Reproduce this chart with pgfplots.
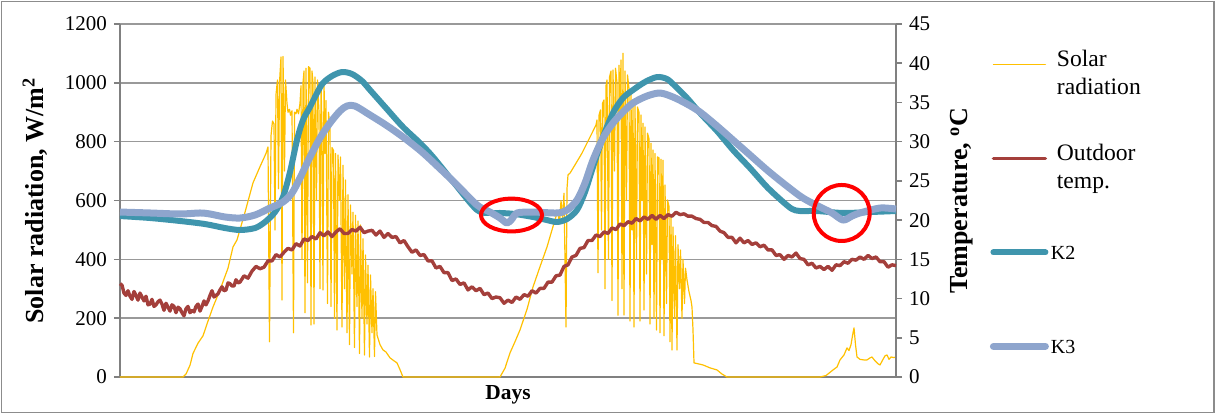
\documentclass[border=0pt]{standalone}
\usepackage{pgfplots}
\pgfplotsset{compat=1.18}
\usepackage{fontspec}
\setmainfont{LiberationSerif}[Extension=.ttf, UprightFont=*-Regular, BoldFont=*-Bold, ItalicFont=*-Italic, BoldItalicFont=*-BoldItalic]
\definecolor{solar}{HTML}{FFC000}
\definecolor{outdoor}{HTML}{A43F3B}
\definecolor{ktwo}{HTML}{3F95AD}
\definecolor{kthree}{HTML}{8EA5CD}
\definecolor{framegray}{HTML}{8C8C8C}
\begin{document}
\begin{tikzpicture}
\useasboundingbox (-60pt,-18.5pt) rectangle (547.5pt,188.5pt);
\draw[framegray, line width=0.7pt] (-59.15pt,-17.85pt) rectangle (547pt,187.65pt);
\begin{axis}[
  at={(0,0)}, anchor=south west,
  width=388pt, height=176.5pt, scale only axis,
  xmin=0, xmax=776, ymin=0, ymax=1200,
  xtick=\empty, ytick={0,200,...,1200},
  axis x line*=bottom, axis y line*=left,
  axis line style={black!50, line width=0.75pt},
  ymajorgrids, grid style={black!40, line width=0.75pt},
  tick style={black!50, line width=0.75pt},
  major tick length=3pt, tick align=outside,
  scaled y ticks=false,
  /pgf/number format/assume math mode=true,
  /pgf/number format/1000 sep={},
  yticklabel style={font=\fontsize{10.5}{12}\selectfont},
  ylabel={Solar radiation, W/m\textsuperscript{2}},
  ylabel style={font=\fontsize{13}{15}\selectfont\bfseries, at={(axis description cs:-0.1095,0.5)}, anchor=center},
  xlabel={Days},
  xlabel style={font=\fontsize{10.7}{12}\selectfont\bfseries, at={(axis description cs:0.5,-0.051)}, anchor=center},
  clip=false,
]
\addplot[solar, line width=0.6pt, line join=round, mark=none] coordinates {
(0,0) (63,0) (66,10) (70,40) (73,80) (78,115) (83,140) (88,190) (93,238) (100,296)
(108,370) (113,442) (117,466) (125,560) (133,660) (140,715) (146,760) (148,782)
(149.5,120) (151,820) (152.5,870) (154,860) (155,500) (156,960) (157.5,1010) (158.5,640)
(159.5,1000) (161,1088) (162,262) (163,1090) (164.5,700) (165.5,1010) (167,930) (168,900)
(169.5,910) (170.5,890) (172,905) (173.5,150) (174.5,900) (176,895) (177,910) (178.5,895)
(180,930) (181,990) (182,400) (183,1000) (184,1040) (185,218) (186,1050) (187.5,320)
(188.5,1055) (190,1050) (191,177) (192,1040) (193,1000) (194,180) (195,1020) (196.5,600)
(197.5,1010) (199,900) (200,300) (201,1000) (202,850) (203,296) (204,1010) (205,760)
(206,940) (207.5,250) (208.5,900) (210,850) (211,240) (212,780) (213.5,770) (214.5,200)
(215.5,760) (217,160) (218,755) (219.5,600) (220.5,748) (222,170) (223,720) (224.5,300)
(225.5,670) (227,150) (228,620) (229.5,110) (230.5,585) (232,350) (233,560) (234.5,100)
(235.5,550) (237,240) (238,530) (239.5,80) (240.5,517) (242,200) (243,470) (244.5,75)
(245.5,415) (247,180) (248,380) (249.5,68) (250.5,347) (252,150) (253,300) (254.5,70)
(255.5,290) (257,143) (260,110) (263,92) (266,85) (270,65) (274,55) (277,48) (280,25) (283,0)
(380,0) (385,30) (390,82) (395,120) (400,160) (407,230) (413,306) (420,375) (427,442)
(432,500) (437,557) (438,560) (439.5,520) (441,600) (442.5,540) (444,625) (446,170)
(447,640) (448,687) (450,693) (455,721) (462,761) (467,795) (472,829) (476,857)
(477,874) (478,354) (479,890) (480.5,908) (481.5,500) (482.5,930) (484,942) (485,300)
(486,990) (487,1010) (488.5,400) (489.5,1020) (491,1040) (492,260) (493,1044) (494.5,700)
(495.5,1050) (497,1000) (498,210) (499,1060) (500,900) (501,1078) (502,300) (503,1101)
(504,211) (505,1040) (506.5,600) (507.5,1027) (509,980) (510,190) (511,976) (512,500)
(513,942) (514,170) (515,930) (516.5,400) (517.5,918) (519,900) (520,190) (521,891)
(522,600) (523,863) (524,228) (525,850) (526.5,350) (527.5,829) (529,810) (530,180)
(531,795) (532,450) (533,772) (534,200) (535,760) (536.5,160) (537.5,748) (539,745)
(540,150) (541,740) (542,400) (543,737) (544,140) (545,653) (546.5,250) (547.5,602)
(549,580) (550,120) (551,551) (552,92) (553,510) (554.5,200) (555.5,480) (557,92)
(558,450) (559.5,300) (560.5,432) (562,200) (563,400) (564.5,250) (565.5,370) (567,330)
(569,290) (571,260) (572,238) (573,160) (574,48) (578,45) (583,41) (590,31) (597,24)
(602,10) (607,0) (700,0) (706,5) (713,24) (717,34) (720,58) (724,75) (727,99) (729,90)
(731,110) (733,150) (734,167) (735.5,110) (737,68) (740,60) (744,58) (747,58) (750,65)
(752,68) (755,55) (758,45) (760,41) (763,60) (765,72) (767,75) (769,60) (771,68) (774,66) (776,68)
};
\end{axis}
\begin{axis}[
  at={(0,0)}, anchor=south west,
  width=388pt, height=176.5pt, scale only axis,
  xmin=0, xmax=776, ymin=0, ymax=45,
  ytick={0,5,...,45},
  axis x line=none, axis y line*=right,
  axis line style={black!50, line width=0.75pt},
  tick style={black!50, line width=0.75pt},
  major tick length=3pt, tick align=outside,
  /pgf/number format/assume math mode=true,
  yticklabel style={font=\fontsize{10.5}{12}\selectfont},
  ylabel={Temperature, \textsuperscript{o}C},
  ylabel style={font=\fontsize{13}{15}\selectfont\bfseries, at={(axis description cs:1.085,0.5)}, anchor=center},
  clip=false,
  legend cell align=left,
  legend image code/.code={\draw[#1, line cap=round] (0pt,0pt) -- (26pt,0pt);},
  legend style={at={(axis description cs:1.1205,1)}, anchor=north west, draw=none, fill=none,
    inner sep=0pt, row sep=7pt, column sep=4pt, nodes={inner sep=0pt, text depth=}},
]
\addlegendimage{solar, line width=0.6pt}
\addlegendentry{\raisebox{-1.1pt}[20pt][20pt]{\fontsize{11.8}{13.75}\selectfont\begin{tabular}[t]{@{}l@{}}Solar\\radiation\end{tabular}}}
\addplot[outdoor, line width=1.7pt, line join=round, mark=none] coordinates {
(0,11.9) (2,11.7) (4,10.7) (6,10.4) (8,11.0) (10,10.3) (12,9.9) (14,10.9) (16,10.4) (18,9.8)
(20,10.7) (22,10.2) (24,9.7) (26,10.3) (28,9.2) (30,9.3) (32,9.9) (34,9.0) (36,9.2) (38,9.6)
(40,9.8) (42,9.3) (44,8.5) (46,9.4) (48,8.9) (50,8.4) (52,9.2) (54,9.0) (56,8.2) (58,8.9)
(60,8.7) (62,8.2) (64,7.8) (66,8.7) (68,9.0) (70,8.2) (72,8.5) (74,8.3) (76,9.0) (78,9.3)
(80,8.4) (82,9.0) (84,9.7) (86,9.2) (88,9.7) (90,10.4) (92,11.0) (94,10.2) (96,10.4) (98,10.6)
(100,11.1) (102,11.5) (104,11.0) (106,11.1) (108,12.0) (110,11.9) (112,11.6) (114,11.6) (116,12.4) (118,12.0)
(120,12.1) (124,12.9) (128,12.6) (132,13.5) (136,14.1) (140,13.8) (144,14.0) (148,14.8) (152,14.8) (156,15.6)
(160,15.3) (164,15.9) (168,16.4) (172,16.2) (176,17.0) (180,16.7) (184,17.6) (188,17.4) (192,17.9) (196,17.6)
(200,18.4) (204,18.0) (208,18.5) (212,17.9) (216,18.5) (220,18.9) (224,18.3) (228,18.3) (232,18.8) (236,18.6)
(240,19.1) (244,18.4) (248,18.6) (252,18.7) (256,18.1) (260,18.6) (264,17.8) (268,18.3) (272,17.8) (276,17.9)
(280,17.1) (284,17.4) (288,16.6) (292,15.9) (296,16.2) (300,15.5) (304,15.6) (308,14.8) (312,14.8) (316,13.9)
(320,14.1) (324,13.3) (328,13.3) (332,12.3) (336,12.5) (340,11.8) (344,12.0) (348,11.1) (352,11.5) (356,11.0)
(360,11.3) (364,10.5) (368,10.7) (372,10.0) (376,10.2) (380,10.1) (384,9.4) (388,9.8) (392,9.5) (396,10.2)
(400,9.9) (404,10.5) (408,10.3) (412,11.0) (416,10.7) (420,11.3) (424,11.3) (428,12.1) (432,12.1) (436,12.9)
(440,13.0) (444,14.1) (448,14.3) (452,15.3) (456,15.5) (460,16.4) (464,16.5) (468,17.4) (472,17.4) (476,18.1)
(480,17.9) (484,18.5) (488,18.3) (492,19.0) (496,18.8) (500,19.5) (504,19.3) (508,19.8) (512,19.6) (516,20.2)
(520,19.9) (524,20.4) (528,20.1) (532,20.6) (536,20.1) (540,20.6) (544,20.2) (548,20.7) (552,20.5) (556,21.0)
(560,20.7) (564,20.8) (568,20.5) (572,20.5) (576,20.2) (580,20.1) (584,19.7) (588,19.7) (592,19.3) (596,19.2)
(600,18.6) (604,18.4) (608,17.8) (612,17.8) (616,17.1) (620,17.7) (624,17.1) (628,17.4) (632,16.9) (636,17.1)
(640,16.6) (644,16.8) (648,16.2) (652,16.2) (656,15.5) (660,15.6) (664,15.0) (668,15.5) (672,15.3) (676,15.8)
(680,15.1) (684,15.0) (688,14.3) (692,14.5) (696,13.9) (700,14.1) (704,13.7) (708,14.1) (712,13.6) (716,14.3)
(720,14.2) (724,14.7) (728,14.5) (732,15.0) (736,14.9) (740,15.3) (744,15.0) (748,15.5) (752,15.1) (756,15.3)
(760,14.7) (764,14.7) (768,14.0) (772,14.3) (776,14.2)
};
\addlegendentry{\raisebox{-1.1pt}[20pt][20pt]{\fontsize{11.8}{13.75}\selectfont\begin{tabular}[t]{@{}l@{}}Outdoor\\temp.\end{tabular}}}
\addplot[ktwo, line width=3pt, line join=round, smooth, mark=none] coordinates {
(0,20.52) (30,20.27) (60,19.89) (85,19.50) (105,18.99) (120,18.74) (135,18.99) (145,19.76)
(155,21.03) (163,22.95) (170,26.13) (177,30.21) (183,32.76) (190,34.42) (197,36.20) (203,37.48)
(212,38.37) (222,38.88) (232,38.63) (242,37.74) (250,36.59) (266,34.29) (283,31.87) (300,29.83)
(313,28.05) (335,24.60) (357,21.29) (370,20.91) (380,20.91) (395,20.78) (413,20.40) (427,20.01)
(437,19.76) (447,20.14) (457,21.29) (465,23.58) (473,26.77) (483,30.60) (493,33.66) (503,35.57)
(513,36.59) (525,37.61) (537,38.24) (547,37.99) (555,37.10) (567,35.57) (580,33.66) (597,31.36)
(613,28.94) (630,26.64) (647,24.22) (662,22.44) (672,21.42) (680,21.16) (697,21.16) (723,20.91)
(750,21.03) (776,21.16)
};
\addlegendentry{\hspace{-3pt}\raisebox{-3.3pt}[20pt][20pt]{\fontsize{10}{12}\selectfont K2}}
\addplot[kthree, line width=3.5pt, line join=round, smooth, mark=none] coordinates {
(0,21.03) (30,20.91) (60,20.78) (80,20.91) (90,20.78) (105,20.40) (120,20.27) (135,20.65)
(150,21.54) (163,22.31) (172,23.46) (180,25.37) (190,28.05) (200,30.47) (210,32.38) (220,33.91)
(227,34.55) (235,34.55) (250,33.40) (266,32.12) (283,30.60) (300,28.90) (313,27.40) (335,24.73)
(357,21.93) (370,21.03) (380,20.27) (387,19.63) (392,20.14) (397,20.91) (413,21.03) (437,20.91)
(447,21.29) (457,22.56) (465,24.73) (473,27.66) (483,30.47) (493,32.38) (503,33.78) (513,34.93)
(527,35.82) (540,36.20) (553,35.69) (567,34.80) (580,33.78) (597,32.00) (613,30.21) (630,28.30)
(647,26.39) (663,24.73) (680,23.07) (690,22.31) (700,21.67) (712,20.91) (723,20.01) (732,20.52)
(740,20.91) (760,21.54) (776,21.41)
};
\addlegendentry{\hspace{-3pt}\raisebox{-3.3pt}[20pt][20pt]{\fontsize{10}{12}\selectfont K3}}
\draw[red, line width=2pt] (axis cs:391.5,20.65) ellipse [x radius=15.25pt, y radius=8.2pt];
\draw[red, line width=2pt] (axis cs:721.7,20.91) circle [radius=14pt];
\end{axis}
\end{tikzpicture}
\end{document}
